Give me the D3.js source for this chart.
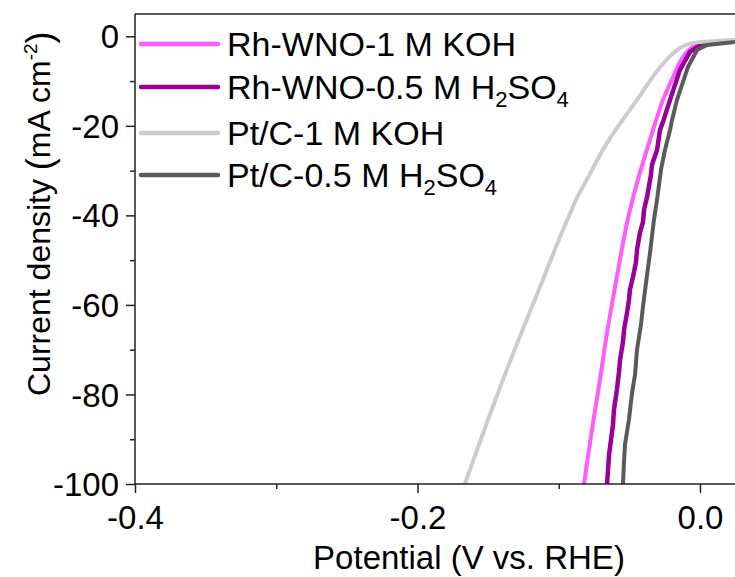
<!DOCTYPE html>
<html>
<head>
<meta charset="utf-8">
<script src="https://cdn.jsdelivr.net/npm/d3@7"></script>
<style>
  html, body { margin: 0; padding: 0; background: #fff; }
  svg { display: block; font-family: "Liberation Sans", Arial, sans-serif; }
</style>
</head>
<body>
<svg id="chart" width="735" height="577"></svg>
<script>
// Polarization (LSV) curves: potential (V vs. RHE) against current density (mA cm^-2)
const rhKOH = [
  [0.0248, -1.27], [0.0050, -1.5], [-0.0050, -2.4], [-0.0120, -4.6], [-0.0191, -9.1],
  [-0.0262, -14.2], [-0.0354, -23.1], [-0.0446, -32.8], [-0.0517, -41.7], [-0.0588, -53.7],
  [-0.0658, -66.2], [-0.0708, -76.7], [-0.0765, -87.9], [-0.0821, -99.9], [-0.0835, -102.4]
];
const rhH2SO4 = [
  [0.0248, -1.05], [0.0106, -1.27], [0.0, -1.94], [-0.0071, -3.5], [-0.0142, -7.5],
  [-0.0212, -14.2], [-0.0262, -19.1], [-0.0283, -20.9], [-0.0304, -25.4], [-0.0340, -28.7],
  [-0.0347, -30.9], [-0.0375, -35.9], [-0.0396, -38.8], [-0.0404, -41.5], [-0.0425, -43.9],
  [-0.0446, -47.7], [-0.0453, -50.4], [-0.0474, -53.7], [-0.0496, -56.6], [-0.0503, -58.9],
  [-0.0517, -61.8], [-0.0538, -65.6], [-0.0545, -68.2], [-0.0566, -72.3], [-0.0573, -74.9],
  [-0.0588, -78.9], [-0.0609, -83.4], [-0.0616, -86.8], [-0.0630, -90.1], [-0.0644, -93.5],
  [-0.0651, -96.8], [-0.0658, -99.9], [-0.0665, -102.4]
];
const ptKOH = [
  [0.0248, -0.8], [0.0120, -1.05], [-0.0050, -1.5], [-0.0142, -2.6], [-0.0283, -6.9],
  [-0.0446, -14.2], [-0.0658, -23.8], [-0.0828, -33.6], [-0.0878, -36.5], [-0.0899, -38.1],
  [-0.0970, -43.2], [-0.1133, -56.0], [-0.1395, -76.7], [-0.1664, -99.9], [-0.1692, -102.4]
];
const ptH2SO4 = [
  [0.0248, -1.27], [0.0050, -1.94], [-0.0021, -3.06], [-0.0085, -6.85], [-0.0163, -14.2],
  [-0.0198, -18.7], [-0.0212, -20.9], [-0.0248, -25.4], [-0.0276, -29.8], [-0.0304, -36.5],
  [-0.0326, -41.0], [-0.0354, -48.4], [-0.0375, -53.3], [-0.0404, -60.4], [-0.0418, -64.4],
  [-0.0446, -70.0], [-0.0460, -75.6], [-0.0481, -79.6], [-0.0503, -85.6], [-0.0531, -91.2],
  [-0.0538, -95.0], [-0.0545, -99.9], [-0.0552, -102.4]
];

const seriesNames = ["Rh-WNO-1 M KOH", "Rh-WNO-0.5 M H2SO4", "Pt/C-1 M KOH", "Pt/C-0.5 M H2SO4"];
const seriesColors = ["#ff5cff", "#990099", "#cccccc", "#5a5a5a"];
const xMajorTicks = [-0.4, -0.2, 0.0];
const xMinorTicks = [-0.3, -0.1, 0.1];
const yMajorTicks = [0, -20, -40, -60, -80, -100];
const yMinorTicks = [-10, -30, -50, -70, -90];

const svg = d3.select("#chart");
const plotL = 135, plotR = 747, plotT = 14, plotB = 484;

const x = d3.scaleLinear().domain([-0.4, 0.0]).range([plotL, 700]);
const y = d3.scaleLinear().domain([-100, 0]).range([plotB, 36.3]);

const axisColor = "#222";
const tickFont = 33;
const legendFont = 34;

// hyphen-minus in tick labels
const hyphen = f => d => f(d).replace("\u2212", "-");

// clip region for the curves
svg.append("defs").append("clipPath").attr("id", "plotClip")
  .append("rect").attr("x", plotL).attr("y", plotT).attr("width", plotR - plotL).attr("height", plotB - plotT);

// curves
const line = d3.line().x(d => x(d[0])).y(d => y(d[1]));
const smooth = d3.line().x(d => x(d[0])).y(d => y(d[1])).curve(d3.curveCatmullRom);
const curves = [
  { data: rhKOH, color: seriesColors[0], gen: smooth, w: 4 },
  { data: rhH2SO4, color: seriesColors[1], gen: line, w: 4.5 },
  { data: ptKOH, color: seriesColors[2], gen: smooth, w: 4 },
  { data: ptH2SO4, color: seriesColors[3], gen: line, w: 4 }
];
const g = svg.append("g").attr("clip-path", "url(#plotClip)");
curves.forEach(c => {
  g.append("path").attr("d", c.gen(c.data)).attr("fill", "none")
    .attr("stroke", c.color).attr("stroke-width", c.w)
    .attr("stroke-linejoin", "round").attr("stroke-linecap", "butt");
});

// frame: top edge
svg.append("line").attr("x1", plotL).attr("x2", plotR).attr("y1", plotT).attr("y2", plotT)
  .attr("stroke", axisColor).attr("stroke-width", 1.5);

// x axis
const xAxis = svg.append("g").attr("transform", `translate(0,${plotB})`)
  .call(d3.axisBottom(x).tickValues(xMajorTicks).tickFormat(hyphen(d3.format(".1f"))).tickSize(9).tickSizeOuter(0));
svg.append("g").attr("transform", `translate(0,${plotB})`)
  .call(d3.axisBottom(x).tickValues(xMinorTicks).tickFormat("").tickSize(5).tickSizeOuter(0))
  .call(a => a.select(".domain").remove());
xAxis.select(".domain").attr("d", `M${plotL},0H${plotR}`);

// y axis
const yAxis = svg.append("g").attr("transform", `translate(${plotL},0)`)
  .call(d3.axisLeft(y).tickValues(yMajorTicks).tickFormat(hyphen(d3.format("d"))).tickSize(9).tickSizeOuter(0));
svg.append("g").attr("transform", `translate(${plotL},0)`)
  .call(d3.axisLeft(y).tickValues(yMinorTicks).tickFormat("").tickSize(5).tickSizeOuter(0))
  .call(a => a.select(".domain").remove());
yAxis.select(".domain").attr("d", `M0,${plotT}V${plotB}`);

svg.selectAll(".domain, .tick line").attr("stroke", axisColor).attr("stroke-width", 1.5);
svg.selectAll(".tick text").attr("font-size", tickFont).attr("fill", "#000")
  .attr("font-family", "'Liberation Sans', Arial, sans-serif");
xAxis.selectAll(".tick text").attr("dy", null).attr("y", 45);
yAxis.selectAll(".tick text").attr("x", -16).attr("dy", "0.35em");

// axis titles
svg.append("text").attr("x", 469).attr("y", 569).attr("text-anchor", "middle")
  .attr("font-size", tickFont).text("Potential (V vs. RHE)");

const yt = svg.append("text").attr("transform", "translate(50,396) rotate(-90)")
  .attr("text-anchor", "start").attr("font-size", 32);
yt.append("tspan").text("Current density ");
yt.append("tspan").attr("font-size", 36).attr("dy", 2).text("(");
yt.append("tspan").attr("font-size", 32).attr("dy", -2).text("mA cm");
yt.append("tspan").attr("font-size", 19).attr("dy", -13).text("-2");
yt.append("tspan").attr("font-size", 36).attr("dy", 15).text(")");

// legend
const legendY = [44, 87, 133, 175];
seriesNames.forEach((name, i) => {
  const ly = legendY[i];
  svg.append("line").attr("x1", 141).attr("x2", 218).attr("y1", ly).attr("y2", ly)
    .attr("stroke", seriesColors[i]).attr("stroke-width", 4.5).attr("stroke-linecap", "round");
  const t = svg.append("text").attr("x", 227).attr("y", ly + 12).attr("font-size", legendFont);
  const m = name.match(/^(.*H)2SO4$/);
  if (m) {
    t.append("tspan").text(m[1]);
    t.append("tspan").attr("font-size", 22).attr("dy", 8).text("2");
    t.append("tspan").attr("dy", -8).text("SO");
    t.append("tspan").attr("font-size", 22).attr("dy", 8).text("4");
  } else {
    t.text(name);
  }
});
</script>
</body>
</html>
